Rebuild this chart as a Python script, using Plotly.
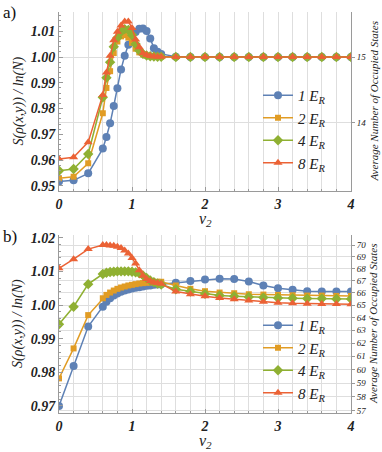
import math
import plotly.graph_objects as go

# sample positions along v2 (shared by both panels)
v2 = [0, 0.2, 0.4, 0.6, 0.65, 0.7, 0.75, 0.8, 0.85, 0.9, 0.95, 1.0, 1.05, 1.1, 1.15,
      1.2, 1.25, 1.3, 1.35, 1.4, 1.6, 1.8, 2.0, 2.2, 2.4, 2.6, 2.8, 3.0, 3.2, 3.4,
      3.6, 3.8, 4.0]

# panel a) normalised entropy
a_1er = [0.9517, 0.9522, 0.9549, 0.9645, 0.9690, 0.9743, 0.9810, 0.9879, 0.9952, 1.0005,
         1.0047, 1.0074, 1.0097, 1.0109, 1.0110, 1.0101, 1.0072, 1.0034, 1.0020, 1.0012,
         1.0001, 1.0000, 1.0000, 1.0000, 1.0000, 1.0000, 1.0000, 1.0000, 1.0000, 1.0000,
         1.0000, 1.0000, 1.0000]
a_2er = [0.9530, 0.9536, 0.9588, 0.9782, 0.9880, 0.9945, 1.0015, 1.0060, 1.0080, 1.0085,
         1.0075, 1.0055, 1.0032, 1.0018, 1.0010, 1.0005, 1.0003, 1.0002, 1.0001, 1.0001,
         1.0000, 1.0000, 1.0000, 1.0000, 1.0000, 1.0000, 1.0000, 1.0000, 1.0000, 1.0000,
         1.0000, 1.0000, 1.0000]
a_4er = [0.9559, 0.9566, 0.9624, 0.9844, 0.9920, 0.9980, 1.0040, 1.0075, 1.0098, 1.0108,
         1.0105, 1.0085, 1.0050, 1.0025, 1.0012, 1.0006, 1.0003, 1.0002, 1.0001, 1.0001,
         1.0000, 1.0000, 1.0000, 1.0000, 1.0000, 1.0000, 1.0000, 1.0000, 1.0000, 1.0000,
         1.0000, 1.0000, 1.0000]
a_8er = [0.9605, 0.9611, 0.9670, 0.9853, 0.9940, 1.0005, 1.0065, 1.0098, 1.0122, 1.0138,
         1.0138, 1.0112, 1.0068, 1.0038, 1.0015, 1.0008, 1.0004, 1.0002, 1.0001, 1.0001,
         1.0000, 1.0000, 1.0000, 1.0000, 1.0000, 1.0000, 1.0000, 1.0000, 1.0000, 1.0000,
         1.0000, 1.0000, 1.0000]

# panel b)
b_1er = [0.9700, 0.9819, 0.9936, 0.9995, 1.0010, 1.0020, 1.0028, 1.0034, 1.0039, 1.0043,
         1.0046, 1.0049, 1.0051, 1.0053, 1.0055, 1.0057, 1.0058, 1.0060, 1.0061, 1.0062,
         1.0066, 1.0071, 1.0076, 1.0078, 1.0077, 1.0070, 1.0058, 1.0050, 1.0045, 1.0041,
         1.0040, 1.0040, 1.0040]
b_2er = [0.9782, 0.9871, 0.9970, 1.0020, 1.0030, 1.0037, 1.0043, 1.0048, 1.0052, 1.0055,
         1.0058, 1.0060, 1.0062, 1.0064, 1.0065, 1.0066, 1.0067, 1.0068, 1.0069, 1.0069,
         1.0058, 1.0048, 1.0041, 1.0037, 1.0035, 1.0032, 1.0031, 1.0030, 1.0029, 1.0028,
         1.0028, 1.0027, 1.0027]
b_4er = [0.9943, 0.9995, 1.0062, 1.0092, 1.0096, 1.0098, 1.0099, 1.0100, 1.0100, 1.0100,
         1.0100, 1.0099, 1.0097, 1.0094, 1.0088, 1.0080, 1.0073, 1.0068, 1.0064, 1.0061,
         1.0047, 1.0040, 1.0033, 1.0028, 1.0026, 1.0024, 1.0022, 1.0021, 1.0020, 1.0019,
         1.0019, 1.0018, 1.0018]
b_8er = [1.0109, 1.0136, 1.0166, 1.0178, 1.0178, 1.0177, 1.0176, 1.0173, 1.0169, 1.0162,
         1.0153, 1.0140, 1.0123, 1.0103, 1.0087, 1.0077, 1.0071, 1.0067, 1.0065, 1.0063,
         1.0040, 1.0032, 1.0026, 1.0021, 1.0017, 1.0013, 1.0010, 1.0007, 1.0005, 1.0004,
         1.0003, 1.0003, 1.0002]

labels = ["1 E<sub>R</sub>", "2 E<sub>R</sub>", "4 E<sub>R</sub>", "8 E<sub>R</sub>"]
a_ticks_left = [0.95, 0.96, 0.97, 0.98, 0.99, 1.00, 1.01]
a_ticks_right = [14, 15]
b_ticks_left = [0.97, 0.98, 0.99, 1.00, 1.01, 1.02]
b_ticks_right = [57, 58, 59, 60, 61, 62, 63, 64, 65, 66, 67, 68, 69, 70]
N_a, N_b = 15, 65  # right axis: value = ln(N) / ln(N0)

colors = ["#5E81B5", "#E19C24", "#8FB032", "#EB6235"]
symbols = ["circle", "square", "diamond", "triangle-up"]
sizes = [8, 6, 8, 8]
SERIF = "Liberation Serif"
W, H = 382, 452

fig = go.Figure()
for i, ys in enumerate([a_1er, a_2er, a_4er, a_8er]):
    fig.add_trace(go.Scatter(
        x=v2, y=ys, mode="lines+markers", name=labels[i], xaxis="x", yaxis="y",
        line=dict(color=colors[i], width=1.5),
        marker=dict(symbol=symbols[i], size=sizes[i], color=colors[i]),
        legend="legend", legendgroup=f"a{i}"))
for i, ys in enumerate([b_1er, b_2er, b_4er, b_8er]):
    fig.add_trace(go.Scatter(
        x=v2, y=ys, mode="lines+markers", name=labels[i], xaxis="x2", yaxis="y3",
        line=dict(color=colors[i], width=1.5),
        marker=dict(symbol=symbols[i], size=sizes[i], color=colors[i]),
        legend="legend2", legendgroup=f"b{i}"))
# empty traces so the right-hand (occupied states) axes get drawn
fig.add_trace(go.Scatter(x=[], y=[], xaxis="x", yaxis="y2", showlegend=False))
fig.add_trace(go.Scatter(x=[], y=[], xaxis="x2", yaxis="y4", showlegend=False))


def px_x(p):
    return p / W


def px_y(p):
    return 1 - p / H


# plot boxes in page pixels
X0, X1 = 59, 351
A_TOP, A_BOT = 12, 191
B_TOP, B_BOT = 235, 413
a_range = [0.94806, 1.01744]
b_range = [0.967914, 1.020796]

grid = "#dedede"
axcol = "#9a9a9a"
tickfont = dict(family=SERIF, size=14, style="italic", weight="bold", color="#222")
rfont = dict(family=SERIF, size=9, style="italic", color="#222")

xcommon = dict(range=[0, 4], tickvals=[0, 1, 2, 3, 4], showgrid=True, gridcolor=grid,
               minor=dict(dtick=0.2, showgrid=True, gridcolor=grid, ticks="inside",
                          ticklen=2, tickcolor=axcol),
               ticks="inside", ticklen=4, tickcolor=axcol, showline=True, linecolor=axcol,
               zeroline=False, tickfont=tickfont, domain=[px_x(X0), px_x(X1)],
               automargin=False)

fig.update_layout(
    width=W, height=H, margin=dict(l=0, r=0, t=0, b=0, autoexpand=False),
    paper_bgcolor="white", plot_bgcolor="white", showlegend=True,
    xaxis=dict(anchor="y", **xcommon),
    xaxis2=dict(anchor="y3", **xcommon),
    yaxis=dict(domain=[px_y(A_BOT), px_y(A_TOP)], range=a_range, tickvals=a_ticks_left,
               tickformat=".2f", showgrid=False, zeroline=False, showline=True,
               linecolor=axcol, ticks="inside", ticklen=4, tickcolor=axcol,
               minor=dict(dtick=0.002, ticks="inside", ticklen=2, tickcolor=axcol),
               tickfont=tickfont, anchor="x", automargin=False),
    yaxis2=dict(overlaying="y", side="right", anchor="x", type="log",
                range=[v * math.log10(N_a) for v in a_range], tickvals=a_ticks_right,
                ticktext=[str(t) for t in a_ticks_right], showgrid=True, gridcolor=grid,
                showline=True, linecolor=axcol, ticks="outside", ticklen=3,
                tickcolor=axcol, tickfont=rfont, zeroline=False, automargin=False),
    yaxis3=dict(domain=[px_y(B_BOT), px_y(B_TOP)], range=b_range, tickvals=b_ticks_left,
                tickformat=".2f", showgrid=False, zeroline=False, showline=True,
                linecolor=axcol, ticks="inside", ticklen=4, tickcolor=axcol,
                minor=dict(dtick=0.002, ticks="inside", ticklen=2, tickcolor=axcol),
                tickfont=tickfont, anchor="x2", automargin=False),
    yaxis4=dict(overlaying="y3", side="right", anchor="x2", type="log",
                range=[v * math.log10(N_b) for v in b_range], tickvals=b_ticks_right,
                ticktext=[str(t) for t in b_ticks_right], showgrid=True, gridcolor=grid,
                showline=True, linecolor=axcol, ticks="outside", ticklen=3,
                tickcolor=axcol, tickfont=rfont, zeroline=False, automargin=False),
    legend=dict(x=px_x(258), y=px_y(79), xanchor="left", yanchor="top",
                bgcolor="rgba(0,0,0,0)", tracegroupgap=0,
                font=dict(family=SERIF, size=15, style="italic", color="#222")),
    legend2=dict(x=px_x(258), y=px_y(309), xanchor="left", yanchor="top",
                 bgcolor="rgba(0,0,0,0)", tracegroupgap=0,
                 font=dict(family=SERIF, size=15, style="italic", color="#222")),
)

ann = []
ytitle = "S(ρ(x,y)) / ln(N)"
rtitle = "Average Number of Occupied States"
for top, bot, lab in [(A_TOP, A_BOT, "a)"), (B_TOP, B_BOT, "b)")]:
    mid = (top + bot) / 2
    ann.append(dict(x=px_x(18), y=px_y(mid), text=ytitle, textangle=-90, showarrow=False,
                    xref="paper", yref="paper", xanchor="center", yanchor="middle",
                    font=dict(family=SERIF, size=14, style="italic", color="#222")))
    ann.append(dict(x=px_x(373), y=px_y(mid), text=rtitle, textangle=-90, showarrow=False,
                    xref="paper", yref="paper", xanchor="center", yanchor="middle",
                    font=dict(family=SERIF, size=11, style="italic", color="#222")))
    ann.append(dict(x=px_x(205), y=px_y(bot + 28), text="v<sub>2</sub>", showarrow=False,
                    xref="paper", yref="paper", xanchor="center", yanchor="middle",
                    font=dict(family=SERIF, size=16, style="italic", color="#222")))
    ann.append(dict(x=px_x(1), y=px_y(top + 1), text=lab, showarrow=False,
                    xref="paper", yref="paper", xanchor="left", yanchor="middle",
                    font=dict(family=SERIF, size=17, color="#111")))
fig.update_layout(annotations=ann)

# drop the default 8px page margin so the figure sits at the window's corner
fig.write_html("out.html", config={"displayModeBar": False},
               post_script="document.body.style.margin='0';")
